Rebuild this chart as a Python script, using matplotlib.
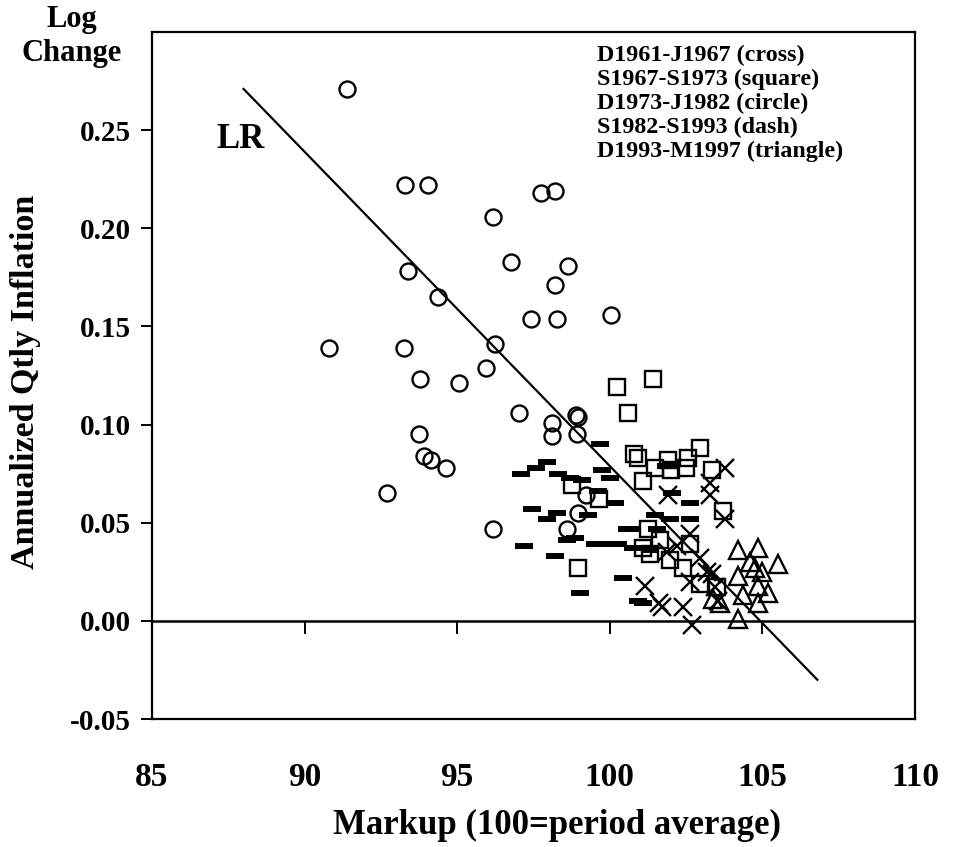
import matplotlib
matplotlib.use("Agg")
import matplotlib.pyplot as plt

plt.rcParams['font.family'] = ['Liberation Serif', 'DejaVu Serif']
plt.rcParams['font.weight'] = 'bold'

# ---------------- data ----------------
cross_x = [103.77, 103.28, 103.28, 103.77, 101.91, 101.15, 101.71, 101.60, 102.40, 102.69,
           101.87, 102.96, 103.18, 102.63, 103.45, 102.20, 103.35, 103.55, 102.63]
cross_y = [0.078, 0.070, 0.064, 0.052, 0.064, 0.018, 0.007, 0.009, 0.007, -0.002,
           0.035, 0.032, 0.025, 0.020, 0.017, 0.038, 0.024, 0.010, 0.044]

square_x = [100.24, 101.42, 100.60, 100.79, 100.92, 101.91, 102.56, 102.96, 101.48, 102.01,
            102.50, 101.09, 103.35, 103.71, 98.76, 99.65, 98.96, 101.25, 101.32, 101.97,
            102.40, 102.63, 101.09, 102.96, 103.51, 101.64]
square_y = [0.119, 0.123, 0.106, 0.085, 0.083, 0.082, 0.083, 0.088, 0.078, 0.077,
            0.078, 0.071, 0.077, 0.056, 0.069, 0.062, 0.027, 0.047, 0.034, 0.031,
            0.027, 0.039, 0.037, 0.019, 0.017, 0.041]

circle_x = [91.39, 93.29, 94.04, 96.17, 96.76, 97.75, 98.20, 98.63, 98.20, 93.39,
            94.37, 97.42, 98.27, 100.04, 90.80, 93.26, 96.24, 93.78, 95.06, 95.94,
            97.02, 98.11, 98.89, 98.96, 98.11, 98.93, 93.75, 93.91, 94.14, 94.63,
            92.70, 96.17, 99.22, 98.96, 98.60]
circle_y = [0.271, 0.222, 0.222, 0.206, 0.183, 0.218, 0.219, 0.181, 0.171, 0.178,
            0.165, 0.154, 0.154, 0.156, 0.139, 0.139, 0.141, 0.123, 0.121, 0.129,
            0.106, 0.101, 0.105, 0.104, 0.094, 0.095, 0.095, 0.084, 0.082, 0.078,
            0.065, 0.047, 0.064, 0.055, 0.047]

dash_x = [99.68, 97.94, 97.58, 97.09, 98.30, 98.70, 99.09, 99.74, 100.01, 99.61,
          100.17, 97.45, 98.27, 97.94, 99.29, 98.60, 98.86, 99.52, 100.01, 97.19,
          98.20, 99.02, 100.73, 100.27, 100.43, 100.92, 101.48, 102.04, 102.63, 101.97,
          102.63, 100.56, 101.55, 100.76, 101.32, 101.84, 101.09]
dash_y = [0.090, 0.081, 0.078, 0.075, 0.075, 0.073, 0.072, 0.077, 0.073, 0.066,
          0.060, 0.057, 0.055, 0.052, 0.054, 0.041, 0.042, 0.039, 0.039, 0.038,
          0.033, 0.014, 0.047, 0.039, 0.022, 0.010, 0.054, 0.065, 0.060, 0.052,
          0.052, 0.047, 0.047, 0.037, 0.036, 0.079, 0.009]

triangle_x = [104.20, 104.86, 104.59, 104.76, 104.99, 105.51, 104.20, 104.86, 105.18, 104.36,
              104.86, 104.20, 103.61, 103.38]
triangle_y = [0.036, 0.037, 0.030, 0.027, 0.025, 0.029, 0.023, 0.018, 0.014, 0.013,
              0.009, 0.001, 0.009, 0.011]

lr_x = [88.0, 106.8]
lr_y = [0.271, -0.030]

x_ticks = [85, 90, 95, 100, 105, 110]
y_ticks = [-0.05, 0.00, 0.05, 0.10, 0.15, 0.20, 0.25]
y_ticklabels = ['-0.05', '0.00', '0.05', '0.10', '0.15', '0.20', '0.25']
legend_lines = ['D1961-J1967 (cross)', 'S1967-S1973 (square)', 'D1973-J1982 (circle)',
                'S1982-S1993 (dash)', 'D1993-M1997 (triangle)']

# ---------------- figure ----------------
W, H = 962, 847
fig = plt.figure(figsize=(W/100, H/100), dpi=100)
ax = fig.add_axes([152/W, 1-719/H, (915-152)/W, (719-32)/H])
ax.set_xlim(85, 110)
ax.set_ylim(-0.05, 0.30)

mk = dict(linestyle='none', color='black', markerfacecolor='none')
ax.plot(circle_x, circle_y, marker='o', markersize=11.5, markeredgewidth=1.7, **mk)
ax.plot(square_x, square_y, marker='s', markersize=11.5, markeredgewidth=1.7, **mk)
ax.plot(triangle_x, triangle_y, marker='^', markersize=13, markeredgewidth=1.7, **mk)
ax.plot(cross_x, cross_y, marker='x', markersize=12.5, markeredgewidth=1.7, **mk)
ax.plot(dash_x, dash_y, marker='_', markersize=13, markeredgewidth=4.3, **mk)

ax.plot(lr_x, lr_y, color='black', linewidth=1.6)
ax.axhline(0, color='black', linewidth=1.8)

ax.text(87.9, 0.245, 'LR', fontsize=25, fontweight='bold', ha='center', va='center')

for i, line in enumerate(legend_lines):
    py = 55 + 24 * i
    ax.text((597-152)/763, (719-py)/687, line, transform=ax.transAxes,
            fontsize=17.3, fontweight='bold', ha='left', va='center')

for s in ax.spines.values():
    s.set_linewidth(1.6)

ax.set_xticks(x_ticks)
ax.set_xticklabels([str(t) for t in x_ticks])
ax.tick_params(axis='x', length=0, pad=31, labelsize=24)
ax.set_yticks(y_ticks)
ax.set_yticklabels(y_ticklabels)
ax.tick_params(axis='y', direction='out', length=8, width=1.4, pad=7, labelsize=21)

sec = ax.secondary_xaxis(0.05/0.35)
sec.set_xticks(x_ticks[1:-1])
sec.tick_params(axis='x', direction='out', length=9, width=1.4, labelbottom=False)
sec.spines['bottom'].set_visible(False)

fig.text(557/W, 1-825/H, 'Markup (100=period average)', fontsize=25,
         fontweight='bold', ha='center', va='center')
fig.text(26/W, 1-382/H, 'Annualized Qtly Inflation', fontsize=24.5, fontweight='bold',
         rotation=90, ha='center', va='center')
fig.text(72/W, 1-19/H, 'Log', fontsize=22, fontweight='bold', ha='center', va='center')
fig.text(72/W, 1-54/H, 'Change', fontsize=22, fontweight='bold', ha='center', va='center')

fig.savefig('out.png', dpi=100)
